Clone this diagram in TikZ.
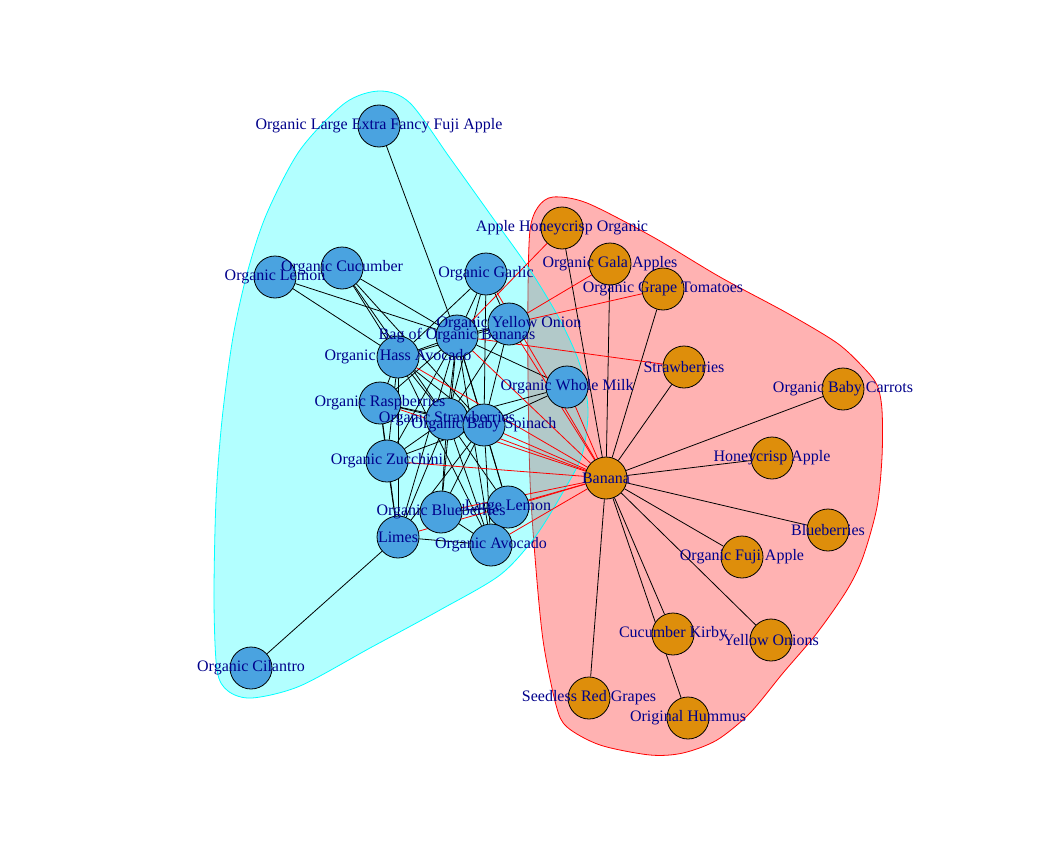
\documentclass[tikz,border=0pt]{standalone}
\usepackage{fontspec}
\setmainfont{Liberation Serif}
\definecolor{nblue}{RGB}{74,163,224}
\definecolor{norange}{RGB}{222,142,11}
\definecolor{labblue}{RGB}{0,0,139}
\definecolor{hcyan}{RGB}{0,255,255}
\definecolor{hred}{RGB}{255,0,0}
\pgfdeclarelayer{hulls}
\pgfdeclarelayer{edges}
\pgfdeclarelayer{labels}
\pgfsetlayers{hulls,edges,main,labels}
\tikzset{
  vb/.style={circle, draw=black, line width=0.8pt, fill=nblue, minimum size=42pt, inner sep=0pt},
  vo/.style={circle, draw=black, line width=0.8pt, fill=norange, minimum size=42pt, inner sep=0pt},
  lab/.style={text=labblue, font=\fontsize{16}{19}\selectfont, inner sep=0pt},
  ein/.style={draw=black, line width=0.8pt},
  ecr/.style={draw=hred, line width=0.8pt},
  hullred/.style={draw=hred, fill=hred, fill opacity=0.3, line width=0.8pt},
  hullcyan/.style={draw=hcyan, fill=hcyan, fill opacity=0.3, line width=0.8pt},
}
\begin{document}
\begin{tikzpicture}[x=1pt,y=-1pt]
\begin{pgfonlayer}{hulls}
\fill[white] (0,0) rectangle (1056,864);
\path[hullred] plot[smooth cycle, tension=0.5] coordinates {
 (553,197) (587,203) (653,237) (720,277) (787,313) (837,343) (863,367) (877,385)
 (882,410) (882,457) (877,507) (863,557) (847,590) (817,633) (783,673) (750,713)
 (717,740) (683,753) (650,755) (600,745) (567,727) (556,705) (543,640) (535,557)
 (530,480) (528,380) (528,290) (530,230) (538,207)};
\path[hullcyan] plot[smooth cycle, tension=0.5] coordinates {
 (380,91) (410,103) (450,158) (490,214) (530,270) (560,320) (580,365) (588,410)
 (582,455) (563,492) (535,537) (500,575) (440,610) (370,648) (300,686) (252,698)
 (228,691) (217,670) (214,600) (216,500) (222,420) (233,337) (248,270) (267,213)
 (300,150) (345,103)};
\end{pgfonlayer}
\useasboundingbox (0,0) rectangle (1056,864);
% nodes (blue)
\node[vb] (fuji) at (379,126) {};
\node[vb] (olemon) at (275,277) {};
\node[vb] (ocuc) at (342,268) {};
\node[vb] (garlic) at (486,274) {};
\node[vb] (yonion) at (509,324) {};
\node[vb] (bob) at (457,336) {};
\node[vb] (hass) at (398,357) {};
\node[vb] (rasp) at (380,403) {};
\node[vb] (ostraw) at (447,419) {};
\node[vb] (spin) at (484,425) {};
\node[vb] (milk) at (567,387) {};
\node[vb] (zucc) at (387,461) {};
\node[vb] (oblue) at (441,512) {};
\node[vb] (llemon) at (508,507) {};
\node[vb] (limes) at (398,537) {};
\node[vb] (oavo) at (491,545) {};
\node[vb] (cil) at (251,668) {};
% nodes (orange)
\node[vo] (ahoney) at (562,228) {};
\node[vo] (gala) at (610,264) {};
\node[vo] (tomato) at (663,289) {};
\node[vo] (straw) at (684,367) {};
\node[vo] (carrots) at (843,389) {};
\node[vo] (banana) at (606,478) {};
\node[vo] (happle) at (772,458) {};
\node[vo] (blueb) at (828,530) {};
\node[vo] (ofuji) at (742,557) {};
\node[vo] (kirby) at (673,634) {};
\node[vo] (yonions) at (771,640) {};
\node[vo] (grapes) at (589,698) {};
\node[vo] (hummus) at (688,718) {};
% edges
\begin{pgfonlayer}{edges}
\foreach \a/\b in {bob/fuji, bob/olemon, bob/ocuc, bob/garlic, bob/yonion, bob/hass, bob/rasp,
  bob/ostraw, bob/spin, bob/milk, bob/zucc, bob/oblue, bob/llemon, bob/limes, bob/oavo,
  garlic/yonion, garlic/hass, garlic/ostraw, garlic/spin,
  yonion/hass, yonion/ostraw, yonion/spin,
  hass/olemon, hass/ocuc, hass/rasp, hass/ostraw, hass/spin, hass/zucc, hass/limes, hass/oavo,
  ocuc/ostraw, ocuc/spin,
  rasp/ostraw, rasp/spin, rasp/zucc, rasp/limes,
  ostraw/spin, ostraw/zucc, ostraw/oblue, ostraw/llemon, ostraw/oavo, ostraw/limes, ostraw/milk,
  spin/milk, spin/zucc, spin/oblue, spin/llemon, spin/oavo, spin/limes,
  zucc/limes, oblue/llemon, oblue/oavo, llemon/oavo, limes/oavo, limes/cil,
  banana/ahoney, banana/gala, banana/tomato, banana/straw, banana/carrots, banana/happle,
  banana/blueb, banana/ofuji, banana/kirby, banana/yonions, banana/grapes, banana/hummus}
  \draw[ein] (\a) -- (\b);
\foreach \a/\b in {banana/bob, banana/yonion, banana/garlic, banana/milk, banana/hass, banana/rasp,
  banana/ostraw, banana/spin, banana/zucc, banana/oblue, banana/llemon, banana/limes, banana/oavo,
  ahoney/bob, gala/yonion, tomato/yonion, straw/bob}
  \draw[ecr] (\a) -- (\b);
\end{pgfonlayer}
% labels
\begin{pgfonlayer}{labels}
\node[lab] (Lfuji) at (fuji) {Organic Large Extra Fancy Fuji Apple};
\node[lab] (Lolemon) at (olemon) {Organic Lemon};
\node[lab] (Locuc) at (ocuc) {Organic Cucumber};
\node[lab] (Lgarlic) at (garlic) {Organic Garlic};
\node[lab] (Lyonion) at (yonion) {Organic Yellow Onion};
\node[lab] (Lbob) at (bob) {Bag of Organic Bananas};
\node[lab] (Lhass) at (hass) {Organic Hass Avocado};
\node[lab] (Lrasp) at (rasp) {Organic Raspberries};
\node[lab] (Lostraw) at (ostraw) {Organic Strawberries};
\node[lab] (Lspin) at (spin) {Organic Baby Spinach};
\node[lab] (Lmilk) at (milk) {Organic Whole Milk};
\node[lab] (Lzucc) at (zucc) {Organic Zucchini};
\node[lab] (Loblue) at (oblue) {Organic Blueberries};
\node[lab] (Lllemon) at (llemon) {Large Lemon};
\node[lab] (Llimes) at (limes) {Limes};
\node[lab] (Loavo) at (oavo) {Organic Avocado};
\node[lab] (Lcil) at (cil) {Organic Cilantro};
\node[lab] (Lahoney) at (ahoney) {Apple Honeycrisp Organic};
\node[lab] (Lgala) at (gala) {Organic Gala Apples};
\node[lab] (Ltomato) at (tomato) {Organic Grape Tomatoes};
\node[lab] (Lstraw) at (straw) {Strawberries};
\node[lab] (Lcarrots) at (carrots) {Organic Baby Carrots};
\node[lab] (Lbanana) at (banana) {Banana};
\node[lab] (Lhapple) at (happle) {Honeycrisp Apple};
\node[lab] (Lblueb) at (blueb) {Blueberries};
\node[lab] (Lofuji) at (ofuji) {Organic Fuji Apple};
\node[lab] (Lkirby) at (kirby) {Cucumber Kirby};
\node[lab] (Lyonions) at (yonions) {Yellow Onions};
\node[lab] (Lgrapes) at (grapes) {Seedless Red Grapes};
\node[lab] (Lhummus) at (hummus) {Original Hummus};
\end{pgfonlayer}
\end{tikzpicture}
\end{document}
